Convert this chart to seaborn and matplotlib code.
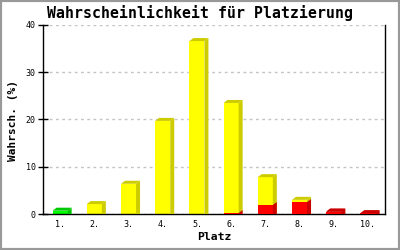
import numpy as np
import pandas as pd
import seaborn as sns
import matplotlib
matplotlib.use("Agg")
import matplotlib.pyplot as plt
from matplotlib.patches import Polygon, Rectangle

# ---- data ----
places = ["1.", "2.", "3.", "4.", "5.", "6.", "7.", "8.", "9.", "10."]
green = [0.7, 0, 0, 0, 0, 0, 0, 0, 0, 0]
yellow = [0, 2.1, 6.4, 19.7, 36.6, 23.3, 5.9, 0.5, 0, 0]
red = [0, 0, 0, 0, 0, 0.2, 1.9, 2.5, 0.5, 0.15]
yticks = [0, 10, 20, 30, 40]

title = "Wahrscheinlichkeit für Platzierung"
ylabel = "Wahrsch. (%)"
xlabel = "Platz"

# ---- style ----
sns.set_style("white")
plt.rcParams["font.family"] = ["DejaVu Sans Mono", "DejaVu Sans"]
plt.rcParams["text.color"] = "black"
plt.rcParams["axes.labelcolor"] = "black"
plt.rcParams["xtick.color"] = "black"
plt.rcParams["ytick.color"] = "black"

FRONT = {"green": "#00ff00", "yellow": "#ffff00", "red": "#ff0000"}
DARK = {"green": "#00c800", "yellow": "#cccc00", "red": "#cc0000"}

total = [g + y + r for g, y, r in zip(green, yellow, red)]
top_series = []
for g, y, r in zip(green, yellow, red):
    top_series.append("yellow" if y > 0 else ("green" if g > 0 else "red"))

df = pd.DataFrame({"Platz": places, "total": total, "red": red,
                   "top": top_series})

W, H = 400, 250
fig = plt.figure(figsize=(W / 100, H / 100), dpi=100)
x_left, x_right, y_bot, y_top = 43, 385, 214, 25
ax = fig.add_axes([x_left / W, 1 - y_bot / H, (x_right - x_left) / W,
                   (y_bot - y_top) / H])

bar_w = 0.44
palette = {p: FRONT[t] for p, t in zip(places, top_series)}
sns.barplot(data=df, x="Platz", y="total", hue="Platz", palette=palette,
            legend=False, width=bar_w, saturation=1, linewidth=0,
            ax=ax, zorder=2)
n_first = len(ax.patches)
sns.barplot(data=df, x="Platz", y="red", color=FRONT["red"], width=bar_w,
            saturation=1, linewidth=0, ax=ax, zorder=4)

ax.set_xlim(-0.5, len(places) - 0.5)
ax.set_ylim(0, 40)
ax.set_yticks(yticks)
ax.set_yticklabels([str(t) for t in yticks])

# depth offset (pixels -> data units)
px_x = (len(places)) / (x_right - x_left)
px_y = 40 / (y_bot - y_top)
dx, dy = 4 * px_x, 3 * px_y


def faces(p, color, draw_top, z):
    x0 = p.get_x()
    x1 = x0 + p.get_width()
    y0 = p.get_y()
    yt = y0 + p.get_height()
    if p.get_height() <= 0:
        return
    side = Polygon([(x1, y0), (x1, yt), (x1 + dx, yt + dy), (x1 + dx, y0)],
                   closed=True, facecolor=color, edgecolor="none", zorder=z)
    ax.add_patch(side)
    if draw_top:
        topf = Polygon([(x0, yt), (x0 + dx, yt + dy), (x1 + dx, yt + dy),
                        (x1, yt)], closed=True, facecolor=color,
                       edgecolor="none", zorder=z)
        ax.add_patch(topf)


first = sorted(ax.patches[:n_first], key=lambda p: p.get_x())
second = sorted(ax.patches[n_first:len(ax.patches)], key=lambda p: p.get_x())
for i, p in enumerate(first):
    faces(p, DARK[top_series[i]], True, 3)
for i, p in enumerate(second):
    faces(p, DARK["red"], yellow[i] == 0 and green[i] == 0, 5)

# grid & spines
ax.set_axisbelow(True)
ax.yaxis.grid(True, color="#c4c4c4", linestyle=(0, (2, 2.5)), linewidth=1)
ax.xaxis.grid(False)
ax.spines["top"].set_visible(False)
for s in ["left", "bottom", "right"]:
    ax.spines[s].set_color("black")
    ax.spines[s].set_linewidth(1.0)
    ax.spines[s].set_visible(True)

ax.tick_params(axis="y", direction="inout", length=6.5, width=1,
               color="black", labelcolor="black", labelsize=6, pad=2,
               left=True)
ax.tick_params(axis="x", length=0, labelsize=6, pad=4, labelcolor="black")

ax.set_xlabel(xlabel, fontsize=8.2, fontweight="bold", color="black")
ax.xaxis.set_label_coords(0.5, -0.095)
ax.set_ylabel(ylabel, fontsize=8, fontweight="bold", color="black")
ax.yaxis.set_label_coords(-0.073, 0.497)

fig.suptitle(title, x=0.5, y=1 - 13 / H, va="center", fontsize=10.7,
             fontweight="bold", color="black")

fig.patches.append(Rectangle((0, 0), 1, 1, transform=fig.transFigure,
                             fill=False, edgecolor="#999999", linewidth=3))

fig.savefig("out.png", dpi=100)
